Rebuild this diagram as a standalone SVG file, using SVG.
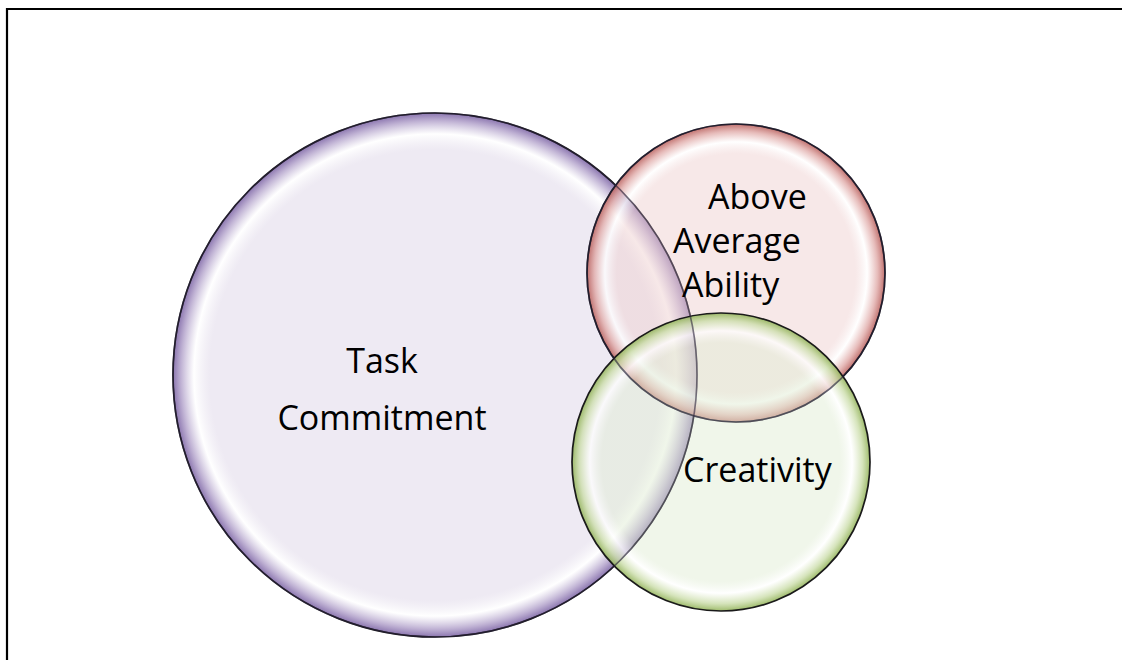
<svg xmlns="http://www.w3.org/2000/svg" width="1122" height="660" viewBox="0 0 1122 660">
<style>
.lbl{font-family:"Open Sans","Liberation Sans",sans-serif;font-size:34px;fill:#000}
.bub{stroke:#1a1a1a;stroke-width:1.7}
.ol{fill:none;stroke:#2a2040;stroke-width:1.6;stroke-opacity:0.55}
</style>
<defs>
<radialGradient id="gP" cx="0.5" cy="0.5" r="0.5">
<stop offset="0" stop-color="#DDD5E7" stop-opacity="0.5"/>
<stop offset="0.86" stop-color="#DDD5E7" stop-opacity="0.5"/>
<stop offset="0.92" stop-color="#FFFFFF" stop-opacity="0.7"/>
<stop offset="0.97" stop-color="#B4A4CC" stop-opacity="0.85"/>
<stop offset="1" stop-color="#7E66A6" stop-opacity="0.9"/>
</radialGradient>
<radialGradient id="gR" cx="0.5" cy="0.5" r="0.5">
<stop offset="0" stop-color="#EFD1D1" stop-opacity="0.5"/>
<stop offset="0.8" stop-color="#EFD1D1" stop-opacity="0.5"/>
<stop offset="0.88" stop-color="#FFFFFF" stop-opacity="0.7"/>
<stop offset="0.95" stop-color="#E0AAA8" stop-opacity="0.8"/>
<stop offset="1" stop-color="#B9615E" stop-opacity="0.9"/>
</radialGradient>
<radialGradient id="gG" cx="0.5" cy="0.5" r="0.5">
<stop offset="0" stop-color="#E1EDD5" stop-opacity="0.5"/>
<stop offset="0.8" stop-color="#E1EDD5" stop-opacity="0.5"/>
<stop offset="0.88" stop-color="#FFFFFF" stop-opacity="0.7"/>
<stop offset="0.95" stop-color="#CBDDAA" stop-opacity="0.8"/>
<stop offset="1" stop-color="#93B35A" stop-opacity="0.9"/>
</radialGradient>
</defs>
<rect width="1122" height="660" fill="#FFFFFF"/>
<path d="M7,662 V9 H1124" fill="none" stroke="#000" stroke-width="2.2"/>
<g id="connectors"/>
<g id="task-commitment">
<circle class="bub" cx="435" cy="375" r="262" fill="url(#gP)"/>
</g>
<g id="above-average-ability">
<circle class="bub" cx="736" cy="273" r="149" fill="url(#gR)"/>
</g>
<g id="creativity">
<circle class="bub" cx="721" cy="462" r="149" fill="url(#gG)"/>
</g>
<g id="outlines">
<circle class="ol" cx="435" cy="375" r="262"/>
<circle class="ol" cx="736" cy="273" r="149"/>
</g>
<g id="labels">
<text class="lbl" x="382" y="373" text-anchor="middle">Task</text>
<text class="lbl" x="382" y="430" text-anchor="middle">Commitment</text>
<text class="lbl" x="708" y="209">Above</text>
<text class="lbl" x="673" y="253">Average</text>
<text class="lbl" x="682" y="297">Ability</text>
<text class="lbl" x="683" y="482">Creativity</text>
</g>
</svg>
